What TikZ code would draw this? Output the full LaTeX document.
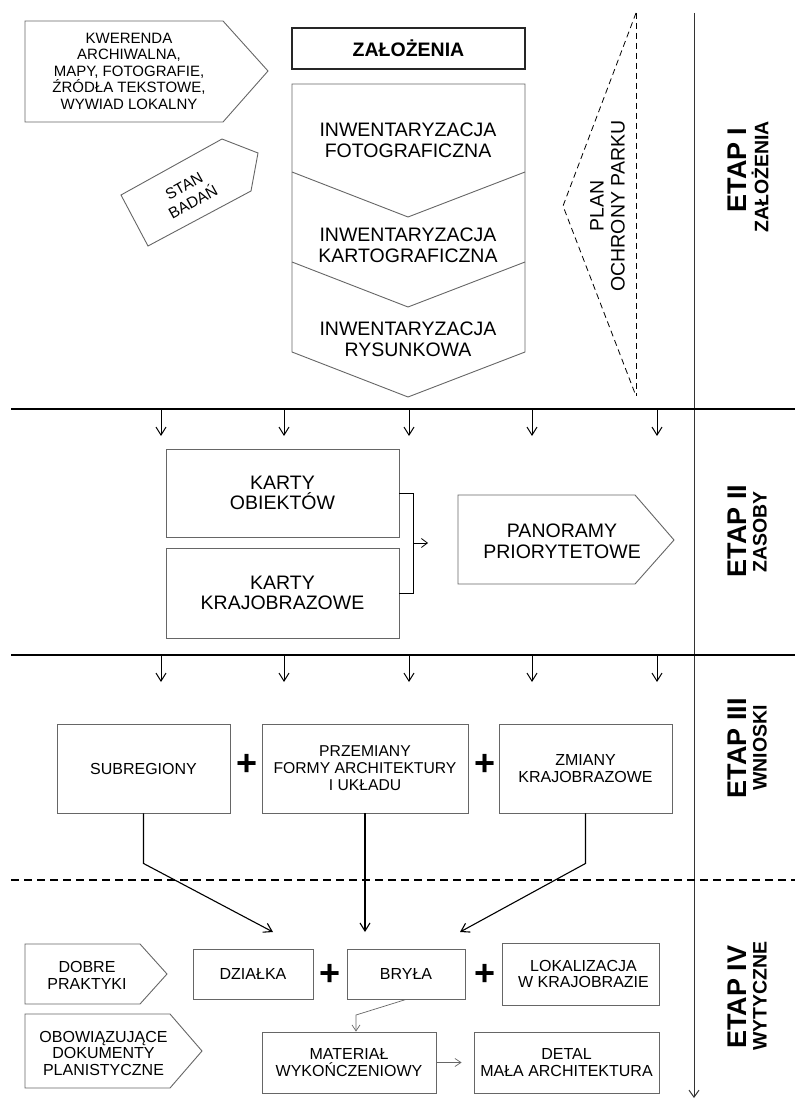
\documentclass[tikz,border=0pt]{standalone}
\usepackage{fontspec}
\setmainfont{Liberation Sans}
\usetikzlibrary{arrows.meta}
\begin{document}
\begin{tikzpicture}[x=1pt,y=-1pt,
  shp/.style={draw=black!60, line width=0.9pt},
  boxn/.style={shp, rectangle, inner sep=0pt, align=center},
  txtbig/.style={font=\fontsize{19.5}{21}\selectfont, align=center, inner sep=0pt},
  txtmid/.style={font=\fontsize{16}{17}\selectfont, align=center, inner sep=0pt},
  mainline/.style={line width=1.5pt, draw=black},
  darr/.style={line width=1pt, -{Straight Barb[length=8pt,width=10pt]}},
  conn/.style={line width=1.1pt, -{Straight Barb[length=8pt,width=10pt]}},
  thinarr/.style={draw=black!60, line width=0.7pt, -{Straight Barb[length=6pt,width=8pt]}},
  plussign/.style={font=\fontsize{36}{36}\selectfont\bfseries, inner sep=0pt},
  etaptitle/.style={rotate=90, font=\fontsize{27}{27}\selectfont\bfseries, inner sep=0pt},
  etapsub/.style={rotate=90, font=\fontsize{19.5}{20}\selectfont\bfseries, inner sep=0pt},
  dashtri/.style={line width=0.8pt, dash pattern=on 6pt off 4pt},
]
\useasboundingbox (0,0) rectangle (795,1099);
\fill[white] (0,0) rectangle (795,1099);

% ---------------- ETAP I ----------------
\draw[shp] (25,21) -- (223,21) -- (268,71) -- (223,122) -- (25,122) -- cycle;
\node[font=\fontsize{15}{16.5}\selectfont, align=center, inner sep=0pt] (kw) at (129,71)
  {KWERENDA\\ARCHIWALNA,\\MAPY, FOTOGRAFIE,\\ŹRÓDŁA TEKSTOWE,\\WYWIAD LOKALNY};

\node[draw=black!85, line width=1.1pt, minimum width=233pt, minimum height=41pt, inner sep=0pt,
  font=\fontsize{19.5}{20}\selectfont\bfseries] (zal) at (408.5,48.5) {ZAŁOŻENIA};

\draw[shp] (292,84) -- (525,84) -- (525,352) -- (408,397) -- (292,352) -- cycle;
\draw[shp] (292,172) -- (408,217) -- (525,172);
\draw[shp] (292,262) -- (408,307) -- (525,262);
\node[txtbig] (inw1) at (408,140) {INWENTARYZACJA\\FOTOGRAFICZNA};
\node[txtbig] (inw2) at (408,245) {INWENTARYZACJA\\KARTOGRAFICZNA};
\node[txtbig] (inw3) at (408,339) {INWENTARYZACJA\\RYSUNKOWA};

\draw[shp] (121,195) -- (222,139) -- (258,153) -- (251,191) -- (148,246) -- cycle;
\node[font=\fontsize{15.5}{18.5}\selectfont, align=center, inner sep=0pt, rotate=29] (stan) at (188.5,194) {STAN\\BADAŃ};

\draw[dashtri] (636,13) -- (563,206) -- (636,396);
\draw[dashtri] (636,13) -- (636,396);
\node[txtbig, rotate=90] (plan) at (607.5,206) {PLAN\\OCHRONY PARKU};

% ---------------- frame lines ----------------
\coordinate (v1) at (694,13);
\coordinate (v2) at (694,1098);
\draw[line width=1pt, draw=black!80, -{Straight Barb[length=7pt,width=10pt]}] (v1) -- (v2);

\coordinate (h1a) at (11,409); \coordinate (h1b) at (795,409);
\coordinate (h2a) at (11,655); \coordinate (h2b) at (795,655);
\coordinate (h3a) at (11,880); \coordinate (h3b) at (795,880);
\draw[mainline] (h1a) -- (h1b);
\draw[mainline] (h2a) -- (h2b);
\draw[line width=1.5pt, dash pattern=on 8pt off 5pt] (h3a) -- (h3b);

\foreach \x in {161,284,409,532,657} {
  \draw[darr] (\x,409) -- (\x,436);
  \draw[darr] (\x,655) -- (\x,682);
}

\node[etaptitle] (e1) at (737,170) {ETAP I};
\node[etapsub] (e1s) at (760,177) {ZAŁOŻENIA};
\node[etaptitle] (e2) at (737,531) {ETAP II};
\node[etapsub] (e2s) at (760,532) {ZASOBY};
\node[etaptitle] (e3) at (737,748) {ETAP III};
\node[etapsub] (e3s) at (760,748) {WNIOSKI};
\node[etaptitle] (e4) at (737,997) {ETAP IV};
\node[etapsub] (e4s) at (760,996) {WYTYCZNE};

% ---------------- ETAP II ----------------
\node[boxn, minimum width=233pt, minimum height=88pt, font=\fontsize{19.5}{20.5}\selectfont] (ko) at (282.5,493) {KARTY\\OBIEKTÓW};
\node[boxn, minimum width=233pt, minimum height=90pt, font=\fontsize{19.5}{20.5}\selectfont] (kk) at (282.5,593) {KARTY\\KRAJOBRAZOWE};
\draw[line width=1pt] (ko.east) -- ++(14,0) coordinate (bt) -- (bt |- kk.east) -- (kk.east);
\coordinate (bm) at (413,543);
\coordinate (ba) at (428,543);
\draw[line width=0.8pt, -{Straight Barb[length=6pt,width=9pt]}] (bm) -- (ba);

\draw[shp] (458,495) -- (635,495) -- (674,540) -- (635,584) -- (458,584) -- cycle;
\node[txtbig] (pano) at (562,541) {PANORAMY\\PRIORYTETOWE};

% ---------------- ETAP III ----------------
\node[boxn, minimum width=173pt, minimum height=89pt, font=\fontsize{16}{17}\selectfont] (sub) at (143.5,768.5) {SUBREGIONY};
\node[boxn, minimum width=206pt, minimum height=89pt, font=\fontsize{15.7}{17}\selectfont] (prz) at (365,768.5) {PRZEMIANY\\FORMY ARCHITEKTURY\\I UKŁADU};
\node[boxn, minimum width=173pt, minimum height=89pt, font=\fontsize{16}{17.5}\selectfont] (zm) at (585.5,768.5) {ZMIANY\\KRAJOBRAZOWE};
\node[plussign] (p1) at (247,765) {+};
\node[plussign] (p2) at (485,765) {+};

\coordinate (tA) at (273,932);
\coordinate (tB) at (365,932);
\coordinate (tC) at (460,932);
\draw[conn] (sub.south) -- ++(0,50) -- (tA);
\draw[conn] (prz.south) -- (tB);
\draw[conn] (zm.south) -- ++(0,50) -- (tC);

% ---------------- ETAP IV ----------------
\draw[shp] (25,944) -- (140,944) -- (167,974) -- (140,1004) -- (25,1004) -- cycle;
\node[txtmid] (dob) at (87,975) {DOBRE\\PRAKTYKI};
\draw[shp] (25,1014) -- (170,1014) -- (202,1051) -- (170,1088) -- (25,1088) -- cycle;
\node[font=\fontsize{16}{16.5}\selectfont, align=center, inner sep=0pt] (obo) at (103.5,1053) {OBOWIĄZUJĄCE\\DOKUMENTY\\PLANISTYCZNE};

\node[boxn, minimum width=120pt, minimum height=50pt, font=\fontsize{16}{17}\selectfont] (dz) at (253,974) {DZIAŁKA};
\node[boxn, minimum width=118pt, minimum height=50pt, font=\fontsize{16}{17}\selectfont] (bry) at (406,974) {BRYŁA};
\node[boxn, minimum width=157pt, minimum height=62pt, font=\fontsize{16}{16.5}\selectfont] (lok) at (580.5,974) {\hspace*{6pt}LOKALIZACJA\\\hspace*{6pt}W KRAJOBRAZIE};
\node[plussign] (p3) at (330,975) {+};
\node[plussign] (p4) at (485,975) {+};

\node[boxn, minimum width=174pt, minimum height=61pt, font=\fontsize{16}{17}\selectfont] (mat) at (349,1062.5) {MATERIAŁ\\WYKOŃCZENIOWY};
\node[boxn, minimum width=185pt, minimum height=61pt, font=\fontsize{16}{17}\selectfont] (det) at (566.5,1062.5) {DETAL\\MAŁA ARCHITEKTURA};

\coordinate (bk) at (356,1015);
\draw[thinarr] (bry.south) -- (bk) -- (bk |- mat.north);
\draw[thinarr, shorten >=12pt] (mat.east) -- (det.west);
\end{tikzpicture}
\end{document}
